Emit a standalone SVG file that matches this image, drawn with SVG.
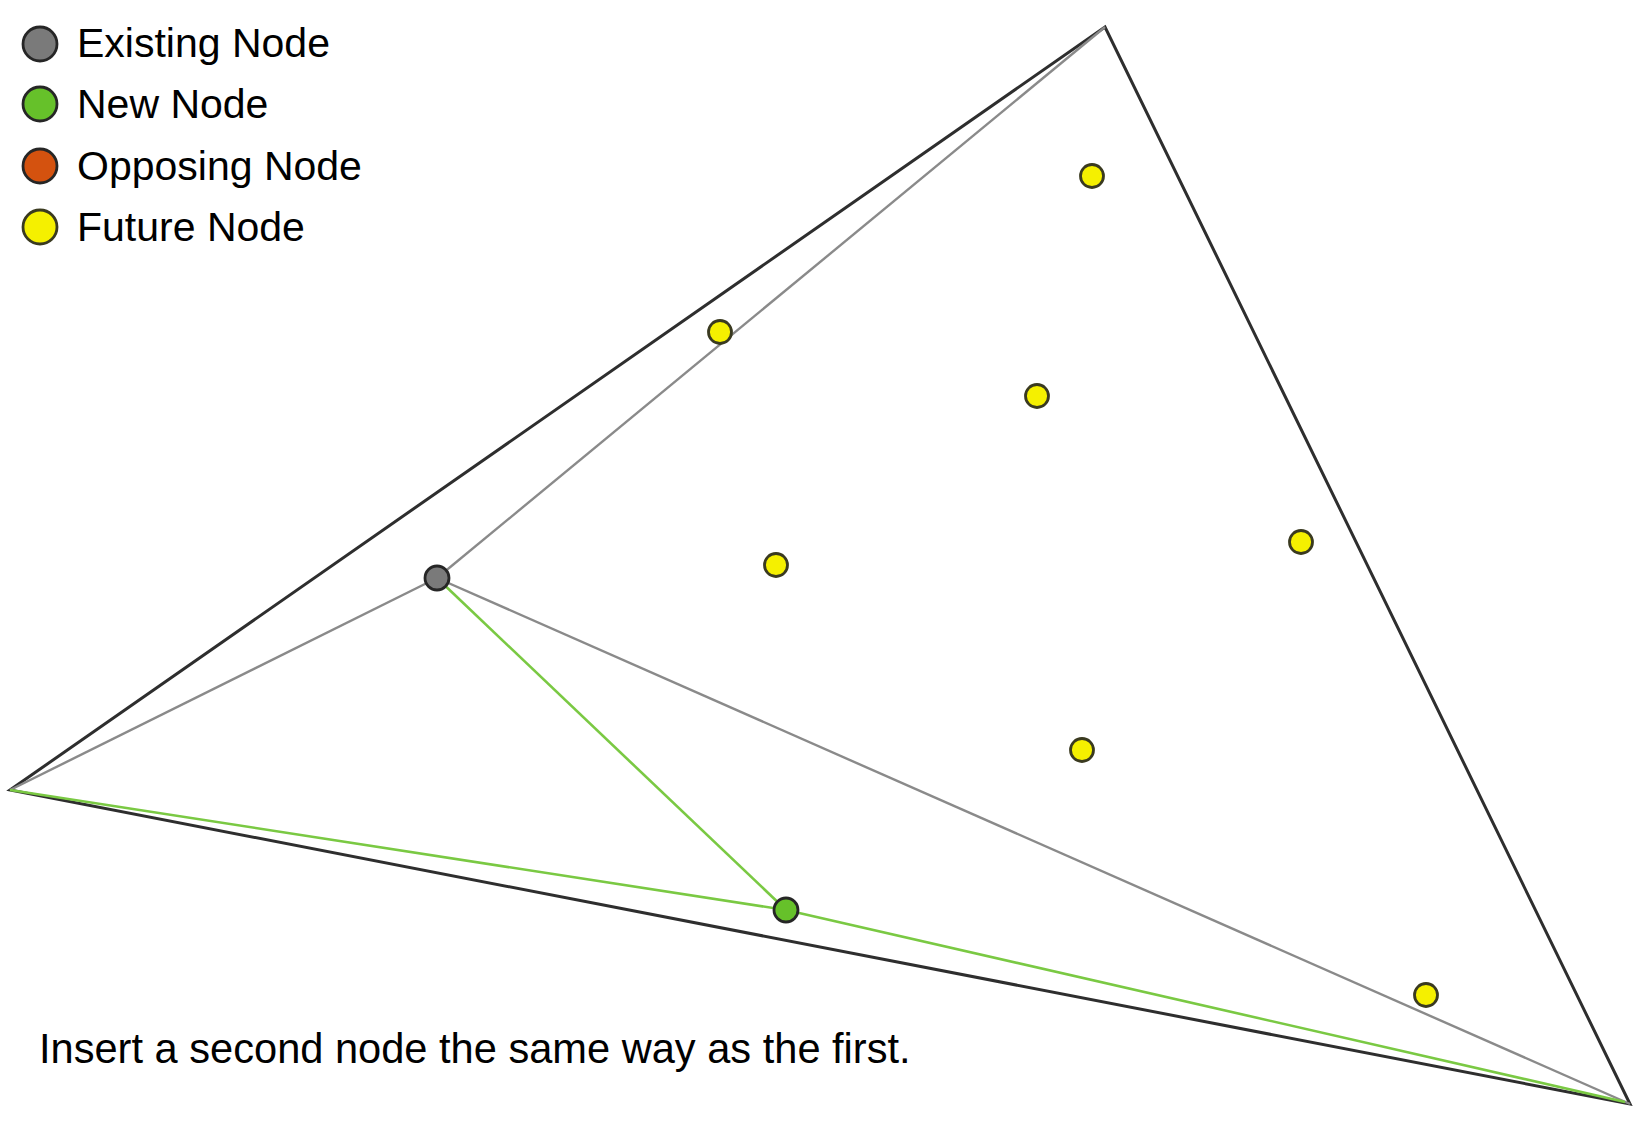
<svg xmlns="http://www.w3.org/2000/svg" width="1650" height="1125" viewBox="0 0 1650 1125">
<style>
.bg{fill:#ffffff}
.edge{fill:none;stroke:#2e2e2e;stroke-width:3;stroke-linejoin:miter}
.gray{fill:none;stroke:#8a8a8a;stroke-width:2.4}
.green{fill:none;stroke:#7ac943;stroke-width:2.6}
.node{stroke:#262626;stroke-width:2.8}
.existing{fill:#7a7a7a}
.new{fill:#66c12a}
.opposing{fill:#d4520f}
.future{fill:#f5f000;stroke:#3a3a20}
.lbl{font-family:"Liberation Sans",Arial,sans-serif;font-size:41px;fill:#000}
.cap{font-family:"Liberation Sans",Arial,sans-serif;font-size:41.6px;fill:#000}
</style>
<rect class="bg" x="0" y="0" width="1650" height="1125"/>
<g id="connectors">
<polygon class="edge" points="1105,27 10,790 1630,1104"/>
<line class="gray" x1="437" y1="578" x2="1105" y2="27"/>
<line class="gray" x1="437" y1="578" x2="10" y2="790"/>
<line class="gray" x1="437" y1="578" x2="1630" y2="1104"/>
<line class="green" x1="437" y1="578" x2="786" y2="910"/>
<line class="green" x1="10" y1="790" x2="786" y2="910"/>
<line class="green" x1="786" y1="910" x2="1625" y2="1102"/>
</g>
<g id="node-existing"><circle class="node existing" cx="437" cy="578" r="12"/></g>
<g id="node-new"><circle class="node new" cx="786" cy="910" r="12"/></g>
<g id="node-future-1"><circle class="node future" cx="1092" cy="176" r="11.5"/></g>
<g id="node-future-2"><circle class="node future" cx="720" cy="332" r="11.5"/></g>
<g id="node-future-3"><circle class="node future" cx="1037" cy="396" r="11.5"/></g>
<g id="node-future-4"><circle class="node future" cx="776" cy="565" r="11.5"/></g>
<g id="node-future-5"><circle class="node future" cx="1301" cy="542" r="11.5"/></g>
<g id="node-future-6"><circle class="node future" cx="1082" cy="750" r="11.5"/></g>
<g id="node-future-7"><circle class="node future" cx="1426" cy="995" r="11.5"/></g>
<g id="legend">
<circle class="node existing" cx="40" cy="44" r="17"/>
<text class="lbl" x="77" y="57">Existing Node</text>
<circle class="node new" cx="40" cy="104" r="17"/>
<text class="lbl" x="77" y="118">New Node</text>
<circle class="node opposing" cx="40" cy="166" r="17"/>
<text class="lbl" x="77" y="180">Opposing Node</text>
<circle class="node future" cx="40" cy="227" r="17"/>
<text class="lbl" x="77" y="241">Future Node</text>
</g>
<text class="cap" x="39" y="1063">Insert a second node the same way as the first.</text>
</svg>
